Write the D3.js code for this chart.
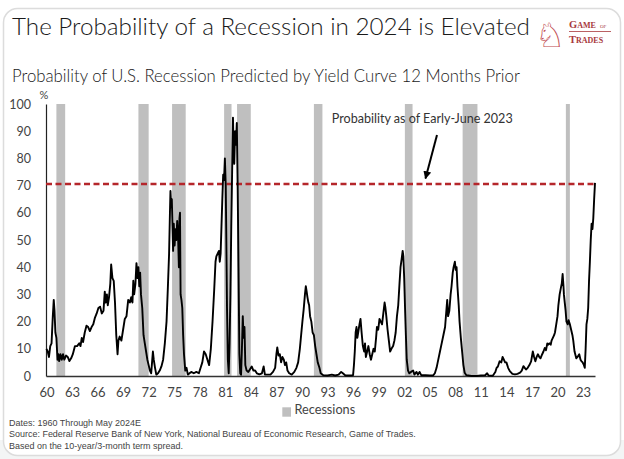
<!DOCTYPE html>
<html>
<head>
<meta charset="utf-8">
<script src="https://cdn.jsdelivr.net/npm/d3@7"></script>
<style>
  body { margin: 0; background: #fff; }
  svg { display: block; }
</style>
</head>
<body>
<script>
var w = 624;
var h = 459;

// recession probability (%) by date (decimal year)
var probDates = [1960.0,1960.15,1960.3,1960.45,1960.6,1960.75,1960.86,1960.95,1961.05,1961.17,1961.3,1961.4,1961.5,1961.65,1961.8,1961.95,1962.1,1962.3,1962.5,1962.7,1962.9,
  1963.1,1963.35,1963.6,1963.85,1964.0,1964.15,1964.3,1964.5,1964.7,1964.9,1965.1,1965.3,1965.5,1965.7,1965.9,1966.1,1966.3,1966.5,1966.7,1966.85,1966.96,
  1967.1,1967.2,1967.35,1967.5,1967.6,1967.75,1967.9,1968.05,1968.2,1968.35,1968.45,1968.6,1968.8,1969.0,1969.2,1969.4,1969.6,1969.8,1969.95,
  1970.1,1970.2,1970.3,1970.45,1970.57,1970.7,1970.8,1970.9,1971.0,1971.1,1971.25,1971.4,1971.55,1971.7,1971.85,1972.0,1972.15,1972.3,1972.4,1972.5,1972.6,1972.75,1972.9,
  1973.1,1973.3,1973.5,1973.7,1973.9,1974.1,1974.25,1974.4,1974.5,1974.56,1974.65,1974.72,1974.8,1974.87,1974.95,1975.05,1975.15,1975.25,1975.35,1975.45,1975.55,1975.62,1975.68,1975.75,1975.85,1975.95,
  1976.05,1976.15,1976.3,1976.45,1976.6,1976.8,1977.0,1977.3,1977.6,1977.9,1978.1,1978.3,1978.5,1978.7,1978.9,1979.1,1979.3,1979.5,1979.7,1979.85,1979.95,
  1980.1,1980.25,1980.35,1980.45,1980.55,1980.65,1980.75,1980.85,1980.95,1981.05,1981.12,1981.2,1981.3,1981.4,1981.5,1981.6,1981.7,1981.8,1981.9,1981.98,
  1982.05,1982.15,1982.25,1982.35,1982.45,1982.55,1982.65,1982.75,1982.85,1982.95,1983.05,1983.15,1983.25,1983.35,1983.5,1983.7,1983.9,
  1984.1,1984.3,1984.5,1984.7,1985.0,1985.3,1985.5,1985.65,1986.0,1986.3,1986.6,1986.85,1987.0,1987.1,1987.25,1987.4,1987.55,1987.7,1987.87,
  1988.0,1988.15,1988.3,1988.5,1988.8,1989.1,1989.35,1989.55,1989.75,1989.9,1990.05,1990.2,1990.35,1990.45,1990.55,1990.64,1990.75,1990.84,1990.95,
  1991.1,1991.25,1991.4,1991.55,1991.7,1991.85,1992.05,1992.2,1992.5,1993.0,1993.5,1993.9,1994.3,1994.6,1994.8,1995.1,1995.6,1996.0,
  1996.1,1996.2,1996.3,1996.4,1996.5,1996.6,1996.75,1996.87,1997.0,1997.15,1997.3,1997.4,1997.5,1997.65,1997.8,1997.95,1998.1,1998.25,1998.4,1998.55,1998.7,1998.8,1998.95,
  1999.1,1999.25,1999.4,1999.55,1999.7,1999.8,1999.9,2000.05,2000.2,2000.35,2000.5,2000.7,2000.85,2001.0,2001.15,2001.3,2001.45,2001.57,2001.7,2001.82,2001.9,
  2002.0,2002.1,2002.2,2002.3,2002.45,2002.6,2002.8,2003.05,2003.2,2003.45,2003.6,2003.8,2004.0,2004.5,2005.0,2005.4,2005.6,2005.8,2006.0,2006.2,2006.4,2006.6,2006.8,2006.95,
  2007.05,2007.15,2007.3,2007.45,2007.56,2007.7,2007.8,2007.95,2008.05,2008.15,2008.25,2008.4,2008.5,2008.65,2008.8,2008.95,2009.1,2009.3,2009.9,2010.5,2011.0,2011.5,2011.74,2011.9,
  2012.4,2012.7,2012.85,2013.0,2013.2,2013.4,2013.55,2013.7,2013.85,2014.0,2014.2,2014.4,2014.7,2015.0,2015.3,2015.6,2015.8,2016.0,2016.15,2016.3,2016.5,2016.7,2016.9,
  2017.1,2017.25,2017.4,2017.55,2017.7,2017.85,2018.0,2018.2,2018.35,2018.5,2018.65,2018.8,2018.9,2019.05,2019.2,2019.3,2019.45,2019.6,2019.7,2019.85,
  2020.0,2020.1,2020.25,2020.4,2020.5,2020.6,2020.7,2020.75,2020.85,2020.95,2021.05,2021.2,2021.3,2021.45,2021.6,2021.75,2021.85,2022.0,2022.2,2022.35,2022.55,2022.7,2022.8,2022.95,
  2023.1,2023.2,2023.3,2023.4,2023.5,2023.6,2023.7,2023.8,2023.9,2024.0,2024.1,2024.2,2024.3,2024.4];

var probValues = [10,9,7,11,12,22,28,24,16,14,6,8,5.5,8,6,8,6,7.5,7,5.5,6.5,
  8,11,11,12,11,14,12.5,16,18.5,18,16.5,18,19,21.5,23,25,25.5,23,24,31,27,
  30,26,29,34,41,36,35,27,15,8,13,14.5,13,17,21,22,28,27,29,
  27,35,30,34,41.5,36,40,33,38,30,25,15,12,9,6,4,2,1,5,9,6,3,0.5,
  1,2,3.5,6,12,20,32,45,60,68,62,65,55,46,56,48,54,50,57,52,40,58,60,30,28,25,
  15,8,2,3,0.5,1,1.5,1,1.5,1,3,5,9,8,6,4,10,20,32,42,44,
  45,46,42,45,55,65,74,72,80,70,50,25,6,1,12,30,55,75,95,82,
  78,90,85,93,70,40,8,1,0.5,10,22,14,18,4,2,1.5,2.5,
  3.5,2,2,1,0.6,1,3.5,0.5,0.5,0.5,1.5,3,8,10.5,7.5,8,5,7,6,
  4,5,2,1,0.5,1.5,3,5,10,15,20,24.5,30,33,31,29,27,26,22,
  20,16,15,11,8,5,3,1,0.3,0.2,0.5,0.2,0.5,1.5,1,0.2,0.2,0.3,
  4,9,16,18,14,16,19,21,16,11,9,12,7,9,11,8,6,8,10,9,14,18,17,
  21,20,19,23,27,25,22,17,13,9,10,11,13,16,22,26,34,40,43,46,44,
  36,25,15,6,2,1,1.5,2,0.5,1.5,0.5,1.5,0.3,0.3,0.2,0.2,1,3,6,9,12,15,18,24,
  28,22,24,30,33,38,40,42,39,40,33,26,20,14,9,4,1.2,0.3,0,0,0.2,0.3,1,0.2,
  0.1,1.5,3,3.5,5.4,5,7,6,5,5,3,1.8,0.8,0.6,0.8,1.2,2,3.6,3,2.4,3,4,5.4,
  9,7,5.4,7,8,7,6.5,8,9,10.3,9.5,12,11.5,12,11.5,13,14,15,16,19,
  22,26,30,32.5,34,37.5,33,30,27,24,20,19,20.5,19,17,15,13,9,6.5,7,8,6,5.5,5,
  4,3,10,19,21,25,35,42,50,56,54,58,65,71];

// recession shading (start, end), as placed on the chart
var recStart = [1961.17, 1970.8, 1974.75, 1980.86, 1982.38, 1991.4, 2002.08, 2008.86, 2020.98];
var recEnd   = [1962.2, 1972.0, 1976.35, 1981.73, 1983.99, 1992.4, 2002.98, 2010.6, 2021.45];

var currentProb = 70.6;

var xTicks = [1960,1963,1966,1969,1972,1975,1978,1981,1984,1987,1990,1993,1996,1999,2002,2005,2008,2011,2014,2017,2020,2023];
var yTicks = [0,10,20,30,40,50,60,70,80,90,100];

var footNotes = [
  "Dates: 1960 Through May 2024E",
  "Source: Federal Reserve Bank of New York, National Bureau of Economic Research, Game of Trades.",
  "Based on the 10-year/3-month term spread."
];

var series = probDates.map(function(d,i){ return {date: d, value: probValues[i]}; });
var recessions = recStart.map(function(d,i){ return {start: d, end: recEnd[i]}; });

var svg = d3.select("body").append("svg").attr("width",w).attr("height",h);

// card
svg.append("rect").attr("x",0).attr("y",440).attr("width",w).attr("height",h-440).attr("fill","#f3f5f5");
svg.append("rect")
  .attr("x",3.5).attr("y",8.5).attr("width",617).attr("height",447)
  .attr("rx",14).attr("fill","#fff").attr("stroke","#dcdcdc").attr("stroke-width",1.5);

var fitText = function(sel, width){
  var len = sel.node().getComputedTextLength();
  var fs = parseFloat(sel.attr("font-size"));
  sel.attr("font-size", fs * width / len);
};

var title = svg.append("text")
  .attr("x",12).attr("y",34.5)
  .attr("font-family","Lato, 'Open Sans', sans-serif").attr("font-weight",300)
  .attr("font-size",23).attr("fill","#1a1a1a")
  .text("The Probability of a Recession in 2024 is Elevated");
fitText(title, 518);

var subtitle = svg.append("text")
  .attr("x",12).attr("y",82.3)
  .attr("font-family","Lato, 'Open Sans', sans-serif").attr("font-weight",300)
  .attr("font-size",16).attr("fill","#1a1a1a")
  .text("Probability of U.S. Recession Predicted by Yield Curve 12 Months Prior");
fitText(subtitle, 508);

// logo
var logo = svg.append("g");
logo.append("text").attr("x",550).attr("y",47).attr("text-anchor","middle")
  .attr("font-family","'DejaVu Sans'").attr("font-size",34).attr("fill","#c0494e")
  .text("\u2658");
var g1 = logo.append("text").attr("x",569).attr("y",28)
  .attr("font-family","'Liberation Serif', serif").attr("font-weight","bold")
  .attr("fill","#a8383c");
g1.append("tspan").attr("font-size",10.5).text("G");
g1.append("tspan").attr("font-size",8).text("AME");
logo.append("text").attr("x",600).attr("y",28)
  .attr("font-family","'Liberation Serif', serif")
  .attr("font-size",5).attr("fill","#a8383c").text("OF");
logo.append("line").attr("x1",569).attr("x2",611).attr("y1",31.5).attr("y2",31.5)
  .attr("stroke","#a8383c").attr("stroke-width",0.8);
var g2 = logo.append("text").attr("x",569).attr("y",43)
  .attr("font-family","'Liberation Serif', serif").attr("font-weight","bold")
  .attr("fill","#a8383c");
g2.append("tspan").attr("font-size",10.5).text("T");
g2.append("tspan").attr("font-size",8).text("RADES");

var x = d3.scaleLinear().domain([1959.95, 2024.4]).range([46, 595]);
var y = d3.scaleLinear().domain([0, 100]).range([376, 104]);

// recession bars
svg.selectAll("rect.rec")
  .data(recessions)
  .enter()
  .append("rect")
  .attr("class","rec")
  .attr("x",function(d){return x(d.start);})
  .attr("y",y(100))
  .attr("width",function(d){return x(d.end)-x(d.start);})
  .attr("height",y(0)-y(100))
  .attr("fill","#bfbfbf");

// axes
var yAxis = svg.append("g").attr("transform","translate(" + x.range()[0] + ",0)")
  .call(d3.axisLeft(y).tickValues(yTicks).tickSize(0).tickPadding(15));
yAxis.select(".domain").attr("stroke","#222").attr("stroke-width",1.2);
yAxis.selectAll("text").attr("font-family","Lato, sans-serif").attr("font-size",12.5).attr("fill","#444");

var xAxis = svg.append("g").attr("transform","translate(0," + y(0) + ")")
  .call(d3.axisBottom(x).tickValues(xTicks).tickSize(0).tickPadding(12)
    .tickFormat(function(d){ return d3.format("02")(d % 100); }));
xAxis.select(".domain").attr("stroke","#333").attr("stroke-width",1.5);
xAxis.selectAll("text").attr("font-family","Lato, sans-serif").attr("font-size",13).attr("fill","#444");

svg.append("text").attr("x",44).attr("y",99).attr("text-anchor","middle")
  .attr("font-family","Lato, sans-serif").attr("font-size",11).attr("fill","#444").text("%");

// threshold
svg.append("line")
  .attr("x1",x.range()[0]).attr("x2",x.range()[1])
  .attr("y1",y(currentProb)).attr("y2",y(currentProb))
  .attr("stroke","#b5262b").attr("stroke-width",2.4).attr("stroke-dasharray","6,3.5");

// probability line
var line = d3.line().x(function(d){return x(d.date);}).y(function(d){return y(d.value);});
svg.append("path").datum(series)
  .attr("d",line).attr("fill","none").attr("stroke","#000")
  .attr("stroke-width",1.9).attr("stroke-linejoin","round");

// annotation
svg.append("defs").append("marker")
  .attr("id","arr").attr("viewBox","0 0 10 10").attr("refX",9).attr("refY",5)
  .attr("markerWidth",4).attr("markerHeight",4).attr("orient","auto")
  .append("path").attr("d","M0,0 L10,5 L0,10 z").attr("fill","#000");
svg.append("line")
  .attr("x1",x(2005.85)).attr("y1",y(88.6))
  .attr("x2",x(2004.5)).attr("y2",y(72.6))
  .attr("stroke","#000").attr("stroke-width",2).attr("marker-end","url(#arr)");
var note = svg.append("text").attr("x",x(1993.5)).attr("y",y(93.1))
  .attr("font-family","Lato, sans-serif").attr("font-size",13).attr("fill","#333")
  .text("Probability as of Early-June 2023");
fitText(note, 181);

// legend
svg.append("rect").attr("x",282.3).attr("y",407.3).attr("width",8.7).attr("height",9.4).attr("fill","#bfbfbf");
var leg = svg.append("text").attr("x",294.5).attr("y",414.3)
  .attr("font-family","Lato, sans-serif").attr("font-size",12).attr("fill","#444")
  .text("Recessions");
fitText(leg, 60.7);

// footnotes
var foot = svg.selectAll("text.foot")
  .data(footNotes)
  .enter()
  .append("text")
  .attr("class","foot")
  .attr("x",9)
  .attr("y",function(d,i){return 425.5 + i*11.7;})
  .attr("font-family","'Liberation Sans Narrow', 'Liberation Sans', sans-serif")
  .attr("font-size",10).attr("fill","#444")
  .text(function(d){return d;});
fitText(d3.select(foot.nodes()[1]), 407);
foot.attr("font-size", d3.select(foot.nodes()[1]).attr("font-size"));
</script>
</body>
</html>
